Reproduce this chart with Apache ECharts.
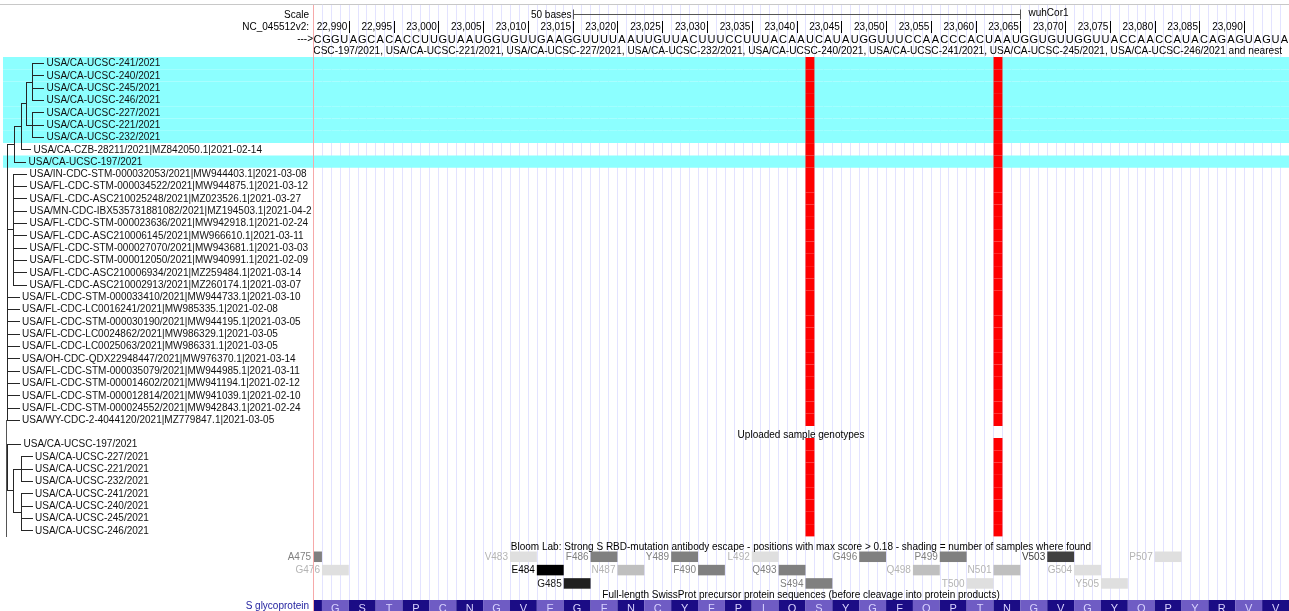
<!DOCTYPE html>
<html><head><meta charset="utf-8">
<script src="https://cdn.jsdelivr.net/npm/echarts@6/dist/echarts.min.js"></script>
<style>html,body{margin:0;padding:0;background:#fff}#c{width:1289px;height:611px}</style>
</head><body><div id="c"></div>
<script>
// ---------------- data ----------------
const chromStart = 22987;            // first base in window
const chromEnd = 23095;              // last base in window
const refSequence = ('C GGU AGC ACA CCU UGU AAU GGU GUU GAA GGU UUU AAU UGU UAC UUU CCU UUA CAA UCA UAU GGU UUC CAA CCC ACU AAU GGU GUU GGU UAC CAA CCA UAC AGA GUA GUA').replace(/ /g, '');
const rulerTicks = [22990,22995,23000,23005,23010,23015,23020,23025,23030,23035,23040,23045,23050,23055,23060,23065,23070,23075,23080,23085,23090];
const rulerLabels = ['22,990','22,995','23,000','23,005','23,010','23,015','23,020','23,025','23,030','23,035','23,040','23,045','23,050','23,055','23,060','23,065','23,070','23,075','23,080','23,085','23,090'];
const scaleBar = [23016, 23066];
const scaleBarLabel = '50 bases';
const assemblyLabel = 'wuhCor1';
const variantPositions = [23042, 23063];

const subtreeLabel = 'USA/CA-UCSC-197/2021, USA/CA-UCSC-221/2021, USA/CA-UCSC-227/2021, USA/CA-UCSC-232/2021, USA/CA-UCSC-240/2021, USA/CA-UCSC-241/2021, USA/CA-UCSC-245/2021, USA/CA-UCSC-246/2021 and nearest';
const subtreeSamples = [
 'USA/CA-UCSC-241/2021','USA/CA-UCSC-240/2021','USA/CA-UCSC-245/2021','USA/CA-UCSC-246/2021',
 'USA/CA-UCSC-227/2021','USA/CA-UCSC-221/2021','USA/CA-UCSC-232/2021',
 'USA/CA-CZB-28211/2021|MZ842050.1|2021-02-14','USA/CA-UCSC-197/2021',
 'USA/IN-CDC-STM-000032053/2021|MW944403.1|2021-03-08','USA/FL-CDC-STM-000034522/2021|MW944875.1|2021-03-12',
 'USA/FL-CDC-ASC210025248/2021|MZ023526.1|2021-03-27','USA/MN-CDC-IBX535731881082/2021|MZ194503.1|2021-04-2',
 'USA/FL-CDC-STM-000023636/2021|MW942918.1|2021-02-24','USA/FL-CDC-ASC210006145/2021|MW966610.1|2021-03-11',
 'USA/FL-CDC-STM-000027070/2021|MW943681.1|2021-03-03','USA/FL-CDC-STM-000012050/2021|MW940991.1|2021-02-09',
 'USA/FL-CDC-ASC210006934/2021|MZ259484.1|2021-03-14','USA/FL-CDC-ASC210002913/2021|MZ260174.1|2021-03-07',
 'USA/FL-CDC-STM-000033410/2021|MW944733.1|2021-03-10','USA/FL-CDC-LC0016241/2021|MW985335.1|2021-02-08',
 'USA/FL-CDC-STM-000030190/2021|MW944195.1|2021-03-05','USA/FL-CDC-LC0024862/2021|MW986329.1|2021-03-05',
 'USA/FL-CDC-LC0025063/2021|MW986331.1|2021-03-05','USA/OH-CDC-QDX22948447/2021|MW976370.1|2021-03-14',
 'USA/FL-CDC-STM-000035079/2021|MW944985.1|2021-03-11','USA/FL-CDC-STM-000014602/2021|MW941194.1|2021-02-12',
 'USA/FL-CDC-STM-000012814/2021|MW941039.1|2021-02-10','USA/FL-CDC-STM-000024552/2021|MW942843.1|2021-02-24',
 'USA/WY-CDC-2-4044120/2021|MZ779847.1|2021-03-05'
];
const subtreeHighlightRows = [0,1,2,3,4,5,6,8];
// genotype calls per row: one char per variant position ('1' = alt allele)
const subtreeCalls = ['11','11','11','11','11','11','11','11','11','11','11','11','11','11','11',
                      '11','11','11','11','11','11','11','11','11','11','11','11','11','11','11'];
// tree: [depth, child, child...]; leaf = [depth, rowIndex]
const subtreeTree = [6.5,
  [14,
    [20.7,
      [26,
        [32, [44,0],[44,1],[44,2],[44,3]],
        [32, [44,4],[44,5],[44,6]]
      ],
      [31,7]
    ],
    [26,8]
  ],
  [13, [27,9],[27,10],[27,11],[27,12],[27,13],[27,14],[27,15],[27,16],[27,17],[27,18]],
  [19.5,19],[19.5,20],[19.5,21],[19.5,22],[19.5,23],[19.5,24],[19.5,25],[19.5,26],[19.5,27],[19.5,28],[19.5,29]
];

const sampleTrackLabel = 'Uploaded sample genotypes';
const sampleNames = ['USA/CA-UCSC-197/2021','USA/CA-UCSC-227/2021','USA/CA-UCSC-221/2021','USA/CA-UCSC-232/2021',
                     'USA/CA-UCSC-241/2021','USA/CA-UCSC-240/2021','USA/CA-UCSC-245/2021','USA/CA-UCSC-246/2021'];
const sampleCalls = ['11','11','11','11','11','11','11','11'];
const sampleTree = [6.5, [21,0], [13.3, [20.7,[32.5,1],[32.5,2],[32.5,3]], [20.7,[32.5,4],[32.5,5],[32.5,6],[32.5,7]]]];

const bloomLabel = 'Bloom Lab: Strong S RBD-mutation antibody escape - positions with max score > 0.18 - shading = number of samples where found';
const bloomSites  = ['A475','G476','V483','E484','G485','F486','N487','Y489','F490','L492','Q493','S494','G496','Q498','P499','T500','N501','V503','G504','Y505','P507'];
const bloomLanes  = [0,1,0,1,2,0,1,0,1,0,1,2,0,1,0,2,1,0,1,2,0];
const bloomCounts = [4,1,1,8,7,4,2,4,4,1,4,4,4,2,4,1,2,6,1,1,1];
const bloomMaxCount = 8;

const proteinLabel = 'Full-length SwissProt precursor protein sequences (before cleavage into protein products)';
const proteinName = 'S glycoprotein';
const proteinFirstResidue = 475;
const proteinSeq = 'AGSTPCNGVEGFNCYFPLQSYGFQPTNGVGYQPYRVV';
const firstCodonStart = 22985;   // genomic start of codon for residue 475

// ---------------- chart ----------------
const FONT = '"Liberation Sans", Arial, Helvetica, sans-serif';
const F10 = '10px ' + FONT;
const ROW = 12.3;
const X0 = chromStart, X1 = chromEnd + 1;
const crisp = v => Math.round(v) + 0.5;

function buildTree(tree) {
  const segs = [], leaves = [];
  function walk(node) {
    const d = node[0];
    if (typeof node[1] === 'number') { leaves.push([d, node[1]]); return node[1] + 0.5; }
    const kids = node.slice(1);
    const ys = kids.map(walk);
    segs.push([d, ys[0], d, ys[ys.length - 1]]);
    kids.forEach((k, i) => segs.push([d, ys[i], k[0], ys[i]]));
    return (ys[0] + ys[ys.length - 1]) / 2;
  }
  walk(tree);
  return { segs, leaves };
}
const topTree = buildTree(subtreeTree);
const botTree = buildTree(sampleTree);

const grids = [
  { left: 313, right: 0, top: 5, bottom: 0 },            // 0 guidelines
  { left: 313, right: 0, top: 0, height: 57 },           // 1 ruler
  { left: 313, right: 0, top: 57, height: ROW * 30 },    // 2 subtree
  { left: 0, width: 313, top: 57, height: ROW * 30 },    // 3 subtree tree
  { left: 313, right: 0, top: 438, height: ROW * 8 },    // 4 samples
  { left: 0, width: 313, top: 438, height: ROW * 8 },    // 5 samples tree
  { left: 313, right: 0, top: 550, height: 40 },         // 6 bloom
  { left: 313, right: 0, top: 600, height: 13 }          // 7 protein
].map(g => Object.assign({ outerBoundsMode: 'none', containLabel: false }, g));

const genomeX = gi => ({ gridIndex: gi, type: 'value', min: X0, max: X1, show: false });
const xAxis = [
  { gridIndex: 0, type: 'value', min: X0, max: X1, interval: 1,
    axisLine: { show: false }, axisTick: { show: false }, axisLabel: { show: false },
    splitLine: { show: true, lineStyle: { color: '#e3e3ff', width: 1 } } },
  genomeX(1), genomeX(2),
  { gridIndex: 3, type: 'value', min: 0, max: 313, show: false },
  genomeX(4),
  { gridIndex: 5, type: 'value', min: 0, max: 313, show: false },
  genomeX(6), genomeX(7)
];
const rowsY = (gi, n) => ({ gridIndex: gi, type: 'value', min: 0, max: n, inverse: true, show: false });
const yAxis = [
  { gridIndex: 0, type: 'value', min: 0, max: 1, z: 10,
    axisLine: { show: true, onZero: false, lineStyle: { color: '#f6a9a9', width: 1 } },
    axisTick: { show: false }, axisLabel: { show: false }, splitLine: { show: false } },
  rowsY(1, 1), rowsY(2, 30), rowsY(3, 30), rowsY(4, 8), rowsY(5, 8), rowsY(6, 3), rowsY(7, 1)
];

function treeSeries(gi, tree, names) {
  return [
    { type: 'custom', xAxisIndex: gi, yAxisIndex: gi, z: 4, silent: true, clip: true,
      data: tree.segs,
      renderItem(p, api) {
        const a = api.coord([api.value(0), api.value(1)]);
        const b = api.coord([api.value(2), api.value(3)]);
        const vert = Math.abs(a[0] - b[0]) < 0.01;
        const x1 = vert ? crisp(a[0]) : Math.round(a[0]);
        const x2 = vert ? crisp(b[0]) : Math.round(b[0]);
        const y1 = vert ? Math.round(a[1]) : crisp(a[1]);
        const y2 = vert ? Math.round(b[1]) + 1 : crisp(b[1]);
        return { type: 'line', shape: { x1, y1, x2, y2 }, style: { stroke: '#262626', lineWidth: 1 } };
      } },
    { type: 'custom', xAxisIndex: gi, yAxisIndex: gi, z: 4, silent: true, clip: true,
      data: tree.leaves,
      renderItem(p, api) {
        const row = api.value(1);
        const pt = api.coord([api.value(0), row + 0.5]);
        return { type: 'text', style: { text: names[row], x: pt[0] + 2.5, y: pt[1] + 0.5,
          textAlign: 'left', textVerticalAlign: 'middle', font: F10, fill: '#111' } };
      } }
  ];
}

function variantSeries(gi, calls) {
  const data = [];
  calls.forEach((c, r) => variantPositions.forEach((pos, k) => { if (c[k] === '1') data.push([pos, r]); }));
  return { type: 'custom', xAxisIndex: gi, yAxisIndex: gi, z: 3, silent: true, data,
    renderItem(p, api) {
      const a = api.coord([api.value(0), api.value(1)]);
      const b = api.coord([api.value(0) + 1, api.value(1) + 1]);
      return { type: 'rect', shape: { x: a[0], y: a[1], width: b[0] - a[0], height: b[1] - a[1] },
        style: { fill: '#ff0000' } };
    } };
}

const series = [
  // ruler ticks + labels
  { type: 'custom', xAxisIndex: 1, yAxisIndex: 1, z: 5, silent: true,
    data: rulerTicks.map(t => [t, 0]),
    renderItem(p, api) {
      const cs = p.coordSys;
      const x = api.coord([api.value(0) + 1, 0])[0];
      return { type: 'group', children: [
        { type: 'line', shape: { x1: crisp(x), y1: cs.y + 21, x2: crisp(x), y2: cs.y + 33 }, style: { stroke: '#000', lineWidth: 1 } },
        { type: 'text', style: { text: rulerLabels[p.dataIndex], x: x - 1.5, y: cs.y + 27.5, textAlign: 'right', textVerticalAlign: 'middle', font: F10, fill: '#000' } }
      ] };
    } },
  // reference sequence
  { type: 'custom', xAxisIndex: 1, yAxisIndex: 1, z: 5, silent: true,
    data: Array.from(refSequence, (b, i) => [chromStart + i, 0]),
    renderItem(p, api) {
      const cs = p.coordSys;
      const x = api.coord([api.value(0) + 0.5, 0])[0];
      return { type: 'text', style: { text: refSequence[p.dataIndex], x, y: cs.y + 39.5, textAlign: 'center', textVerticalAlign: 'middle', font: '11px ' + FONT, fill: '#000' } };
    } },
  // scale bar
  { type: 'custom', xAxisIndex: 1, yAxisIndex: 1, z: 5, silent: true,
    data: [[scaleBar[0], scaleBar[1]]],
    renderItem(p, api) {
      const cs = p.coordSys;
      const x1 = crisp(api.coord([api.value(0), 0])[0]);
      const x2 = crisp(api.coord([api.value(1), 0])[0]);
      const y = crisp(cs.y + 14);
      return { type: 'group', children: [
        { type: 'line', shape: { x1, y1: y, x2, y2: y }, style: { stroke: '#555', lineWidth: 1 } },
        { type: 'line', shape: { x1, y1: y - 5, x2: x1, y2: y + 5 }, style: { stroke: '#555', lineWidth: 1 } },
        { type: 'line', shape: { x1: x2, y1: y - 5, x2, y2: y + 5 }, style: { stroke: '#555', lineWidth: 1 } },
        { type: 'text', style: { text: scaleBarLabel, x: x1 - 2, y: cs.y + 15, textAlign: 'right', textVerticalAlign: 'middle', font: F10, fill: '#000' } },
        { type: 'text', style: { text: assemblyLabel, x: x2 + 8, y: cs.y + 13, textAlign: 'left', textVerticalAlign: 'middle', font: F10, fill: '#000' } }
      ] };
    } },
  // subtree center label (clipped at the data area's edges)
  { type: 'custom', xAxisIndex: 1, yAxisIndex: 1, z: 5, silent: true, clip: true,
    data: [[X1, 0]],
    renderItem(p, api) {
      const cs = p.coordSys;
      const x = api.coord([api.value(0), 0])[0];
      return { type: 'text', style: { text: subtreeLabel, x: x - 7, y: cs.y + 51.5, textAlign: 'right', textVerticalAlign: 'middle', font: '10.12px ' + FONT, fill: '#000' } };
    } },
  // highlight rows (span label column and data area)
  { type: 'custom', xAxisIndex: 2, yAxisIndex: 2, z: 1, silent: true, clip: false,
    data: subtreeHighlightRows.map(r => [X0, r]),
    renderItem(p, api) {
      const r = api.value(1);
      const y1 = api.coord([X0, r])[1], y2 = api.coord([X0, r + 1])[1];
      return { type: 'rect', shape: { x: 3, y: y1, width: api.getWidth() - 3, height: y2 - y1 }, style: { fill: '#8cffff' } };
    } },
  variantSeries(2, subtreeCalls),
  variantSeries(4, sampleCalls),
  ...treeSeries(3, topTree, subtreeSamples),
  ...treeSeries(5, botTree, sampleNames),
  // Bloom lab escape sites
  { type: 'custom', xAxisIndex: 6, yAxisIndex: 6, z: 5, silent: true,
    data: bloomSites.map((s, i) => [firstCodonStart + 3 * (parseInt(s.slice(1), 10) - proteinFirstResidue), bloomLanes[i], bloomCounts[i]]),
    renderItem(p, api) {
      const start = Math.max(api.value(0), X0);
      const lane = api.value(1), cnt = api.value(2);
      const a = api.coord([start, lane]);
      const b = api.coord([api.value(0) + 3, lane + 1]);
      const g = Math.round(255 - cnt * 255 / bloomMaxCount);
      const lg = Math.min(g, 180);
      const top = a[1] + 1.5, h = (b[1] - a[1]) - 2.8;
      return { type: 'group', children: [
        { type: 'rect', shape: { x: a[0], y: top, width: b[0] - a[0], height: h }, style: { fill: `rgb(${g},${g},${g})` } },
        { type: 'text', style: { text: bloomSites[p.dataIndex], x: a[0] - 2, y: top + h / 2 + 0.5, textAlign: 'right', textVerticalAlign: 'middle', font: F10, fill: `rgb(${lg},${lg},${lg})` } }
      ] };
    } },
  // protein track
  { type: 'custom', xAxisIndex: 7, yAxisIndex: 7, z: 5, silent: true, clip: true,
    data: Array.from(proteinSeq, (aa, i) => [firstCodonStart + 3 * i, i]),
    renderItem(p, api) {
      const s = api.value(0), i = api.value(1);
      const a = api.coord([Math.max(s, X0), 0]);
      const b = api.coord([s + 3, 1]);
      const kids = [{ type: 'rect', shape: { x: a[0], y: a[1], width: b[0] - a[0], height: b[1] - a[1] },
        style: { fill: i % 2 === 0 ? '#1b0c85' : '#6f5cc4' } }];
      if (s >= X0) kids.push({ type: 'text', style: { text: proteinSeq[i], x: (a[0] + b[0]) / 2, y: a[1] + 8.5, textAlign: 'center', textVerticalAlign: 'middle', font: '11px ' + FONT, fill: '#d9d3ff' } });
      return { type: 'group', children: kids };
    } }
];

const gtext = (x, y, text, align, fill) => ({ type: 'text', x, y, z: 100, zlevel: 0,
  style: { text, textAlign: align, textVerticalAlign: 'middle', font: F10, fill: fill || '#000' } });
const graphic = [
  { type: 'line', shape: { x1: 0, y1: 4.5, x2: 1289, y2: 4.5 }, style: { stroke: '#c8c8c8', lineWidth: 1 }, z: 100 },
  // left edge line of the tree/sample track panel
  { type: 'line', shape: { x1: 6.5, y1: 420, x2: 6.5, y2: 537 }, style: { stroke: '#555', lineWidth: 1 }, z: 100 },
  gtext(309, 15, 'Scale', 'right'),
  gtext(309, 27.5, 'NC_045512v2:', 'right'),
  gtext(313, 39.5, '--->', 'right'),
  gtext(801, 435, sampleTrackLabel, 'center'),
  gtext(801, 547.5, bloomLabel, 'center'),
  gtext(801, 595.5, proteinLabel, 'center'),
  gtext(309, 606, proteinName, 'right', '#1d1d9e')
];

const chart = echarts.init(document.getElementById('c'));
chart.setOption({ animation: false, backgroundColor: '#fff', grid: grids, xAxis, yAxis, series, graphic });
</script></body></html>
